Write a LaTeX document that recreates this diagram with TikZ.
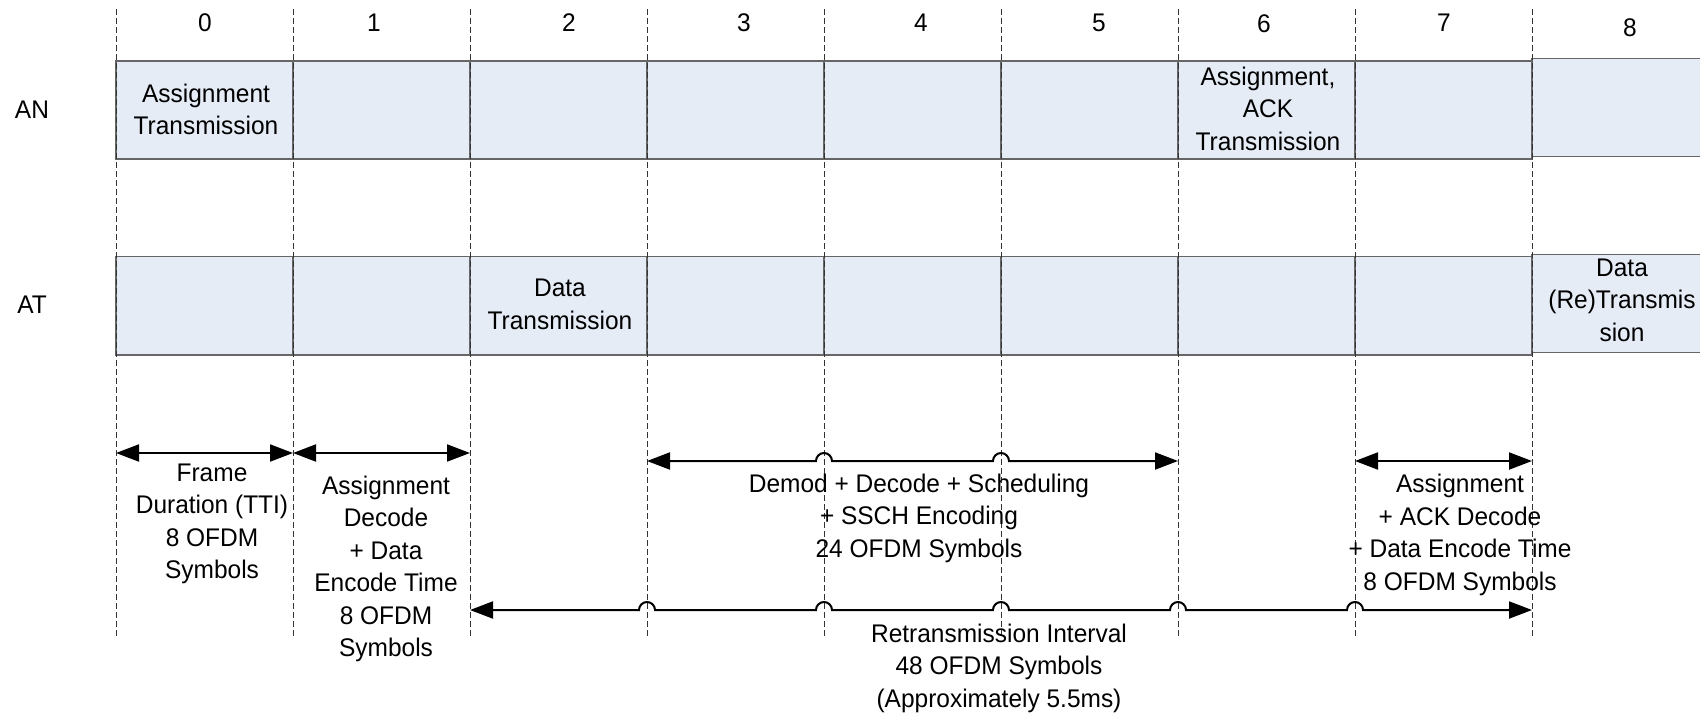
\documentclass[tikz,border=0pt]{standalone}
\usepackage{fontspec}
\setmainfont[FakeStretch=0.96]{Liberation Sans}
\usepackage{tikz}
\usetikzlibrary{arrows.meta}

\definecolor{slotblue}{RGB}{230,236,246}

\tikzset{
    slot/.style={draw=black!60, line width=1.5pt, fill=slotblue},
    tick/.style={black!80, line width=1pt, dash pattern=on 6pt off 3pt},
    span/.style={line width=2pt, {Triangle[length=23pt,width=17pt]}-{Triangle[length=23pt,width=17pt]}},
    txt/.style={align=center, inner sep=0pt, font=\fontsize{25.5}{32.5}\selectfont},
}

\begin{document}
\begin{tikzpicture}[x=1pt, y=-1pt]
    \useasboundingbox (0,0) rectangle (1700,715);

    % slots of the two rows
    \foreach \i in {0,...,7} {
        \draw[slot] ({116+177*\i},61) rectangle ({293+177*\i},159);
        \draw[slot] ({116+177*\i},256.5) rectangle ({293+177*\i},355);
    }
    \draw[slot] (1532,58.5) rectangle (1712,156.5);
    \draw[slot] (1532,254.5) rectangle (1712,352.5);

    % frame boundaries
    \foreach \i in {0,...,8} {
        \coordinate (t\i) at ({116+177*\i},9);
        \coordinate (b\i) at ({116+177*\i},637);
        \coordinate (a\i) at ({116+177*\i},453);
        \coordinate (c\i) at ({116+177*\i},461);
        \coordinate (r\i) at ({116+177*\i},610);
        \draw[tick] (t\i) -- (b\i);
    }

    % frame numbers
    \foreach \n/\x/\y in {0/205/23, 1/374/23, 2/569/23, 3/744/23, 4/921/23,
                         5/1099/23, 6/1264/24, 7/1444/22.5, 8/1630/27.5}
        \node[txt] (n\n) at (\x,\y) {\n};

    \node[txt] (rowAN) at (32,110) {AN};
    \node[txt] (rowAT) at (32,305) {AT};

    \node[txt] (asgTx) at (206,109.5) {Assignment\\Transmission};
    \node[txt] (dataTx) at (560,304.5) {Data\\Transmission};
    \node[txt] (asgAckTx) at (1268,108.5) {Assignment,\\ACK\\Transmission};
    \node[txt] (dataReTx) at (1622,300) {Data\\(Re)Transmis\\sion};

    % durations
    \draw[span] (a0) -- (a1);
    \draw[span] (a1) -- (a2);
    \draw[span] (c3) -- ([xshift=-8pt]c4) arc[start angle=180, end angle=360, radius=8]
        -- ([xshift=-8pt]c5) arc[start angle=180, end angle=360, radius=8] -- (c6);
    \draw[span] (c7) -- (c8);
    \draw[span] (r2) -- ([xshift=-8pt]r3) arc[start angle=180, end angle=360, radius=8]
        -- ([xshift=-8pt]r4) arc[start angle=180, end angle=360, radius=8]
        -- ([xshift=-8pt]r5) arc[start angle=180, end angle=360, radius=8]
        -- ([xshift=-8pt]r6) arc[start angle=180, end angle=360, radius=8]
        -- ([xshift=-8pt]r7) arc[start angle=180, end angle=360, radius=8] -- (r8);

    \node[txt] (frameDur) at (212,524) {Frame\\Duration (TTI)\\8 OFDM\\Symbols};
    \node[txt] (asgDec) at (386,569) {Assignment\\Decode\\+ Data\\Encode Time\\8 OFDM\\Symbols};
    \node[txt] (procTime) at (919,518) {Demod + Decode + Scheduling\\+ SSCH Encoding\\24 OFDM Symbols};
    \node[txt] (ackDec) at (1460,535) {Assignment\\+ ACK Decode\\+ Data Encode Time\\8 OFDM Symbols};
    \node[txt] (retxInt) at (999,668) {Retransmission Interval\\48 OFDM Symbols\\(Approximately 5.5ms)};
\end{tikzpicture}
\end{document}
